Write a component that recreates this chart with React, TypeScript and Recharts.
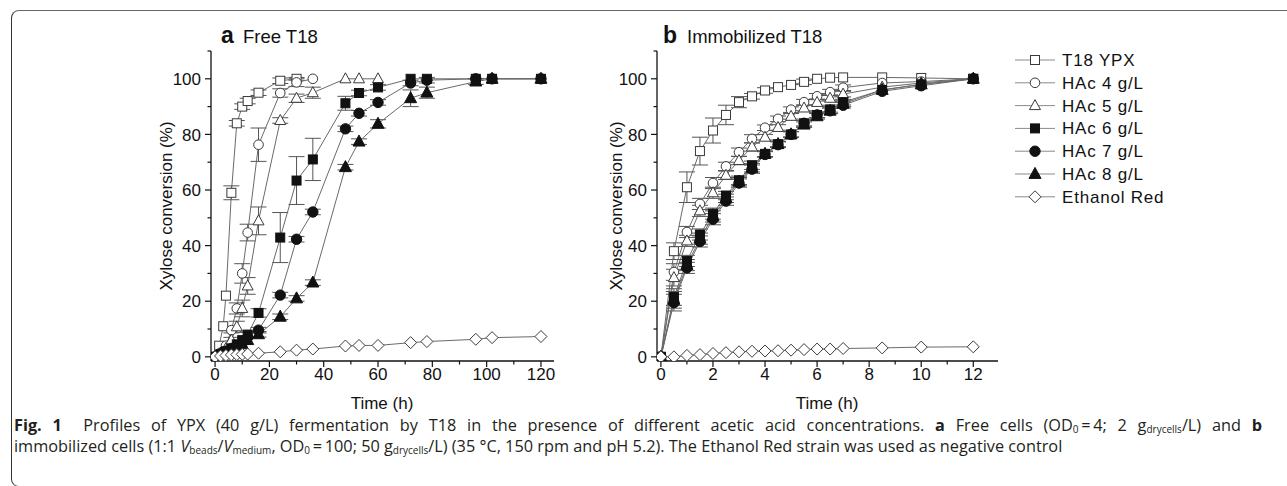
import { LineChart, Line, XAxis, YAxis, ErrorBar } from 'recharts';

const SANS = '"Liberation Sans", Arial, Helvetica, sans-serif';
const LINE = '#6a6a6a';
const INK = '#111';

// ─── Panel a: free cells, time in h ────────────────────────────
const freeYpxT = [0, 1.5, 3, 4, 6, 8, 10, 12, 16, 24, 30];
const freeYpxV = [0, 4, 11, 22, 59, 84, 90, 92, 95, 99.3, 100];
const freeYpxE = [0, 0, 0, 0, 2.5, 1, 1, 1, 1, 1, 0.5];

const freeHac4T = [0, 2, 4, 6, 8, 10, 12, 16, 24, 30, 36];
const freeHac4V = [0, 1.5, 4, 9.6, 17.4, 30, 44.7, 76.3, 94.9, 98.7, 100];
const freeHac4E = [0, 0, 0, 1, 2, 3.5, 3, 6, 1.5, 1.5, 0];

const freeHac5T = [0, 2, 4, 6, 8, 10, 12, 16, 24, 30, 36, 48, 53, 60];
const freeHac5V = [0, 1, 3, 6, 10.8, 17.4, 25.5, 48.9, 85, 93, 95, 100, 100, 100];
const freeHac5E = [0, 0, 0, 1, 2, 3, 3, 5, 1, 1.5, 2, 0, 0, 0];

const freeLongT = [0, 2, 4, 6, 8, 10, 12, 16, 24, 30, 36, 48, 53, 60, 72, 78, 96, 102, 120];
const freeHac6V = [0, 1, 2, 3, 4.5, 6, 8, 15.8, 42.9, 63.4, 71, 91.2, 94.9, 96.9, 100, 100, 100, 100, 100];
const freeHac6E = [0, 0, 0, 0, 0, 0, 1, 1.5, 9, 8.6, 7.6, 2.5, 1, 1, 0, 0, 0, 0, 0];
const freeHac7V = [0, 1, 2, 3, 4, 5, 7, 9.6, 22.2, 42.3, 52.1, 82, 87.6, 91.5, 98.5, 99.5, 100, 100, 100];
const freeHac7E = [0, 0, 0, 0, 0, 0, 0, 1, 1, 1, 1, 1, 1, 1, 1, 1, 0, 0, 0];
const freeHac8V = [0, 1, 1.5, 2.5, 3.5, 4.5, 6, 8.1, 14.4, 21, 26.7, 68.2, 77.4, 83.8, 93, 95, 99, 100, 100];
const freeHac8E = [0, 0, 0, 0, 0, 0, 0, 1, 1, 1, 1, 1, 1, 1.5, 3, 2, 1, 0, 0];
const freeRedV = [0, 0.3, 0.5, 0.7, 0.8, 0.9, 1, 1.3, 1.8, 2.4, 2.8, 3.9, 4.1, 4.1, 5.1, 5.5, 6.3, 6.9, 7.3];

// ─── Panel b: immobilized cells, time in h ─────────────────────
const immT = [0, 0.5, 1, 1.5, 2, 2.5, 3, 3.5, 4, 4.5, 5, 5.5, 6, 6.5, 7, 8.5, 10, 12];
const immYpxV = [0, 38, 61, 74, 81.4, 87, 91.6, 93.7, 95.8, 97, 97.8, 98.9, 100, 100.4, 100.5, 100.5, 100.3, 100];
const immYpxE = [0, 3, 5.5, 5, 4.5, 3.5, 2, 1, 1, 0, 0, 1, 0, 0, 0, 0, 0, 0];
const immHac4V = [0, 30.5, 44.9, 55, 62.5, 68.5, 73.6, 78.4, 82.4, 85.6, 88.9, 91.6, 93.7, 95.2, 96.8, 98.5, 99, 100];
const immHac5V = [0, 28.5, 41.7, 52.5, 59, 65.3, 70.6, 75.5, 79, 82.5, 86.5, 89.5, 91.5, 93, 94.5, 97, 98.5, 100];
const immHac6V = [0, 21.5, 34.5, 44, 51.5, 58, 63.5, 68.9, 73, 76.5, 80, 84, 87, 89, 91.6, 96, 98, 100];
const immHac7V = [0, 19.5, 32, 41.5, 49.5, 56, 62.5, 67.5, 72.8, 76.3, 80, 84, 87, 88.5, 90.5, 95.5, 97.5, 100];
const immHac8V = [0, 20.5, 33, 42.5, 50.5, 57, 63, 68, 73, 76.5, 80, 83.5, 86.5, 88.5, 91, 96, 98, 100];
const immSmallE = [0, 3, 2, 2, 2, 1.5, 1.5, 1.5, 1, 1, 1, 1, 1, 1, 1, 0, 0, 0];
const immRedV = [0, 0, 0.5, 0.8, 1.2, 1.5, 1.8, 2, 2.1, 2.2, 2.4, 2.6, 2.8, 2.8, 3, 3.2, 3.5, 3.6];

const legendNames = ['T18 YPX', 'HAc 4 g/L', 'HAc 5 g/L', 'HAc 6 g/L', 'HAc 7 g/L', 'HAc 8 g/L', 'Ethanol Red'];
const shapes = ['square', 'circle', 'triangle', 'fsquare', 'fcircle', 'ftriangle', 'diamond'];

const xTicksA = [0, 10, 20, 30, 40, 50, 60, 70, 80, 90, 100, 110, 120];
const xTicksB = [0, 1, 2, 3, 4, 5, 6, 7, 8, 9, 10, 11, 12];
const yTicks = [0, 10, 20, 30, 40, 50, 60, 70, 80, 90, 100, 110];

const pts = (t: number[], v: number[], e: number[] = []) =>
  t.map((x, i) => ({ t: x, v: v[i], e: e[i] ? e[i] : undefined }));

const seriesA = [
  pts(freeYpxT, freeYpxV, freeYpxE),
  pts(freeHac4T, freeHac4V, freeHac4E),
  pts(freeHac5T, freeHac5V, freeHac5E),
  pts(freeLongT, freeHac6V, freeHac6E),
  pts(freeLongT, freeHac7V, freeHac7E),
  pts(freeLongT, freeHac8V, freeHac8E),
  pts(freeLongT, freeRedV),
];

const seriesB = [
  pts(immT, immYpxV, immYpxE),
  pts(immT, immHac4V, immSmallE),
  pts(immT, immHac5V, immSmallE),
  pts(immT, immHac6V, immSmallE),
  pts(immT, immHac7V, immSmallE),
  pts(immT, immHac8V, immSmallE),
  pts(immT, immRedV),
];

// ─── Markers ───────────────────────────────────────────────────

function Marker({ cx, cy, shape }: { cx: number; cy: number; shape: string }) {
  if (cx == null || cy == null || isNaN(cx) || isNaN(cy)) return <g />;
  const filled = shape.startsWith('f');
  const fill = filled ? INK : '#fff';
  const stroke = filled ? INK : '#3a3a3a';
  const base = shape.replace(/^f/, '');
  if (base === 'square') {
    return <rect x={cx - 4.5} y={cy - 4.5} width={9} height={9} fill={fill} stroke={stroke} strokeWidth={1} />;
  }
  if (base === 'circle') {
    return <circle cx={cx} cy={cy} r={filled ? 5.2 : 4.8} fill={fill} stroke={stroke} strokeWidth={1} />;
  }
  if (base === 'triangle') {
    const h = filled ? 11 : 10;
    const w = filled ? 12 : 11;
    return (
      <polygon
        points={`${cx},${cy - h * 0.6} ${cx - w / 2},${cy + h * 0.4} ${cx + w / 2},${cy + h * 0.4}`}
        fill={fill}
        stroke={stroke}
        strokeWidth={1}
      />
    );
  }
  return (
    <polygon
      points={`${cx},${cy - 6} ${cx + 6},${cy} ${cx},${cy + 6} ${cx - 6},${cy}`}
      fill={fill}
      stroke={stroke}
      strokeWidth={1}
    />
  );
}

// ─── Axis ticks (major + minor drawn by hand) ──────────────────

const tickFn = (side: string, major: number, showLabels: boolean) => (p: any) => {
  const v = p.payload.value as number;
  const isMajor = Math.abs(v / major - Math.round(v / major)) < 1e-6;
  const len = isMajor ? 6 : 3.5;
  const { x, y } = p;
  const label = showLabels && isMajor && (side !== 'left' || v <= 100);
  const txt = { fontFamily: SANS, fontSize: 17, fill: INK };
  if (side === 'left') {
    return (
      <g>
        <line x1={x - len} y1={y} x2={x} y2={y} stroke={INK} strokeWidth={1.2} />
        {label && <text x={x - 10} y={y} dy="0.36em" textAnchor="end" {...txt}>{v}</text>}
      </g>
    );
  }
  if (side === 'bottom') {
    return (
      <g>
        <line x1={x} y1={y} x2={x} y2={y + len} stroke={INK} strokeWidth={1.2} />
        {label && <text x={x} y={y + 19} textAnchor="middle" {...txt}>{v}</text>}
      </g>
    );
  }
  if (side === 'top') {
    return <line x1={x} y1={y} x2={x} y2={y + len} stroke={INK} strokeWidth={1.2} />;
  }
  return <line x1={x - len} y1={y} x2={x} y2={y} stroke={INK} strokeWidth={1.2} />;
};

const axisLine = { stroke: INK, strokeWidth: 1.3 };

function Panel({
  left,
  width,
  marginLeft,
  marginRight,
  xDomain,
  xTicks,
  xMajor,
  series,
  id,
}: {
  left: number;
  width: number;
  marginLeft: number;
  marginRight: number;
  xDomain: [number, number];
  xTicks: number[];
  xMajor: number;
  series: { t: number; v: number; e?: number }[][];
  id: string;
}) {
  return (
    <div style={{ position: 'absolute', left, top: 0 }}>
      <LineChart width={width} height={400} margin={{ top: 51, right: marginRight, bottom: 9, left: marginLeft }}>
        <XAxis
          xAxisId="b"
          type="number"
          dataKey="t"
          domain={xDomain}
          allowDataOverflow
          ticks={xTicks}
          interval={0}
          tickSize={0}
          tickMargin={0}
          tickLine={false}
          axisLine={axisLine}
          tick={tickFn('bottom', xMajor, true)}
          height={30}
        />
        <XAxis
          xAxisId="top"
          orientation="top"
          type="number"
          dataKey="t"
          domain={xDomain}
          allowDataOverflow
          ticks={xTicks}
          interval={0}
          tickSize={0}
          tickMargin={0}
          tickLine={false}
          axisLine={axisLine}
          tick={tickFn('top', xMajor, false)}
          height={0}
        />
        <YAxis
          yAxisId="l"
          type="number"
          domain={[-1.5, 110]}
          allowDataOverflow
          ticks={yTicks}
          interval={0}
          tickSize={0}
          tickMargin={0}
          tickLine={false}
          axisLine={axisLine}
          tick={tickFn('left', 20, true)}
          width={50}
        />
        <YAxis
          yAxisId="r"
          orientation="right"
          type="number"
          domain={[-1.5, 110]}
          allowDataOverflow
          ticks={yTicks}
          interval={0}
          tickSize={0}
          tickMargin={0}
          tickLine={false}
          axisLine={axisLine}
          tick={tickFn('right', 20, false)}
          width={0}
        />
        {series.map((data, i) => (
          <Line
            key={legendNames[i]}
            xAxisId="b"
            yAxisId="l"
            data={data}
            dataKey="v"
            name={legendNames[i]}
            stroke={LINE}
            strokeWidth={1}
            activeDot={false}
            isAnimationActive={false}
            dot={(p: any) => <Marker key={`${id}-${i}-${p.index}`} cx={p.cx} cy={p.cy} shape={shapes[i]} />}
          >
            <ErrorBar dataKey="e" direction="y" width={8} stroke="#555" strokeWidth={1} />
          </Line>
        ))}
      </LineChart>
    </div>
  );
}

// small subscript that stays inside its own line box
const sub = { fontSize: 10, lineHeight: 1, verticalAlign: '-2px' };

export default function App() {
  const label = { fontFamily: SANS, fontSize: 17, fill: INK };
  const legendY0 = 60;
  const legendStep = 22.8;
  return (
    <div style={{ position: 'absolute', left: 0, top: 0, width: 1287, height: 486, background: '#fff', overflow: 'hidden' }}>
      <div
        style={{
          position: 'absolute',
          left: 11,
          top: 10,
          width: 1320,
          height: 475,
          borderTop: '1.5px solid #666',
          borderLeft: '1.5px solid #333',
          borderBottom: '1.5px solid #666',
          borderRadius: '8px 0 0 8px',
        }}
      />
      <Panel
        id="a"
        left={0}
        width={600}
        marginLeft={161}
        marginRight={46}
        xDomain={[-1.5, 124.8]}
        xTicks={xTicksA}
        xMajor={20}
        series={seriesA}
      />
      <Panel
        id="b"
        left={600}
        width={400}
        marginLeft={7}
        marginRight={2}
        xDomain={[-0.15, 12.95]}
        xTicks={xTicksB}
        xMajor={2}
        series={seriesB}
      />
      <svg width={1287} height={486} style={{ position: 'absolute', left: 0, top: 0, pointerEvents: 'none' }}>
        <text x={221} y={43} fontFamily={SANS} fontSize={23} fontWeight="bold" fill={INK}>a</text>
        <text x={243} y={43} {...label} fontSize={18.5}>Free T18</text>
        <text x={663} y={43} fontFamily={SANS} fontSize={23} fontWeight="bold" fill={INK}>b</text>
        <text x={687} y={43} {...label} fontSize={18.5}>Immobilized T18</text>
        <text transform="translate(172,206) rotate(-90)" textAnchor="middle" {...label}>Xylose conversion (%)</text>
        <text transform="translate(622,206) rotate(-90)" textAnchor="middle" {...label}>Xylose conversion (%)</text>
        <text x={382} y={409} textAnchor="middle" {...label}>Time (h)</text>
        <text x={827} y={409} textAnchor="middle" {...label}>Time (h)</text>
        {legendNames.map((n, i) => {
          const y = legendY0 + i * legendStep;
          return (
            <g key={n}>
              <line x1={1015} y1={y} x2={1055} y2={y} stroke="#8a8a8a" strokeWidth={1} />
              <Marker cx={1035} cy={y} shape={shapes[i]} />
              <text x={1062} y={y + 6} {...label} letterSpacing={0.8}>{n}</text>
            </g>
          );
        })}
      </svg>
      <div
        style={{
          position: 'absolute',
          left: 14,
          top: 415,
          width: 1248,
          fontFamily: '"Open Sans", sans-serif',
          fontSize: 16.3,
          lineHeight: '21px',
          color: '#231f20',
          whiteSpace: 'nowrap',
        }}
      >
        <div style={{ textAlign: 'justify', textAlignLast: 'justify', whiteSpace: 'normal', height: 21 }}>
          <b>Fig. 1</b>&nbsp; Profiles of YPX (40 g/L) fermentation by T18 in the presence of different acetic acid
          concentrations. <b>a</b> Free cells (OD<span style={sub}>0</span>{'\u2009=\u2009'}4; 2&nbsp;g
          <span style={sub}>drycells</span>/L) and <b>b</b>
        </div>
        <div style={{ height: 21 }}>
          immobilized cells (1:1 <i>V</i>
          <span style={sub}>beads</span>/<i>V</i>
          <span style={sub}>medium</span>, OD<span style={sub}>0</span>
          {'\u2009=\u2009'}100; 50 g<span style={sub}>drycells</span>/L) (35 °C, 150 rpm and pH 5.2). The Ethanol Red
          strain was used as negative control
        </div>
      </div>
    </div>
  );
}
